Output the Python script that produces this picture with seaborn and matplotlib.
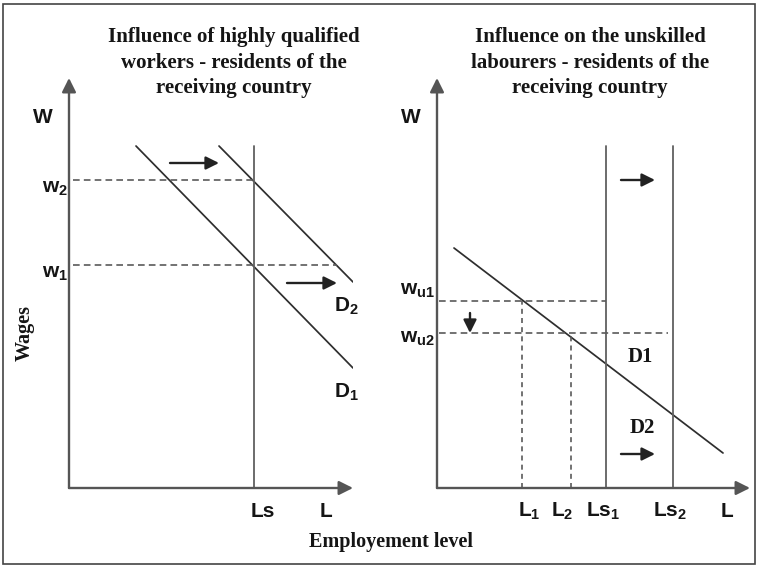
import numpy as np
import pandas as pd
import seaborn as sns
import matplotlib.pyplot as plt
from matplotlib.patches import Rectangle

# left panel: highly qualified workers (units = axis length along L / W)
hq_title = ["Influence of highly qualified", "workers - residents of the", "receiving country"]
hq_len = [284, 410]
hq_d1_x, hq_d1_y = [67, 284], [342, 120]
hq_d2_x, hq_d2_y = [150, 284], [342, 206]
hq_ls, hq_ls_top = 185, 342
hq_w_lvl = [223, 308]          # w1, w2
hq_w_end = [268, 185]
hq_shift_x = [[101, 150], [218, 268]]
hq_shift_y = [325, 205]

# right panel: unskilled labourers
un_title = ["Influence on the unskilled", "labourers - residents of the", "receiving country"]
un_len = [313, 410]
un_d_x, un_d_y = [17, 286], [240, 35]
un_ls, un_ls_top = [169, 236], 342
un_w_lvl = [187, 155]          # wu1, wu2
un_w_end = [169, 231]
un_l = [85, 134]               # L1, L2
un_shift_x = [184, 218]
un_shift_y = [308, 34]
un_drop_x, un_drop_y = 33, [175, 155]

sns.set_theme(style="white")
plt.rcParams['font.family'] = ['Liberation Sans', 'DejaVu Sans']
plt.rcParams['mathtext.fontset'] = 'custom'
plt.rcParams['mathtext.rm'] = 'Liberation Sans:bold'
plt.rcParams['mathtext.it'] = 'Liberation Sans:bold'
plt.rcParams['mathtext.bf'] = 'Liberation Sans:bold'
plt.rcParams['mathtext.default'] = 'rm'

AXC = "#555555"
LNC = "#2e2e2e"
DSH = "#5a5a5a"
TXT = "#151515"
lab = dict(fontsize=15, fontweight="bold", color=TXT, clip_on=False)
serif = dict(family="Liberation Serif", fontweight="bold", color=TXT)

fig = plt.figure(figsize=(7.58, 5.66), dpi=100)
bg = fig.add_axes([0, 0, 1, 1], zorder=0)
bg.set_xlim(0, 758)
bg.set_ylim(566, 0)
bg.axis("off")
bg.add_patch(Rectangle((3, 4), 752, 560, fill=False, edgecolor="#444444", lw=1.2))


def panel(x0, length):
    ax = fig.add_axes([x0 / 758, (566 - 488) / 566, length[0] / 758, length[1] / 566], zorder=1)
    ax.set_xlim(0, length[0])
    ax.set_ylim(0, length[1])
    ax.axis("off")
    ax.patch.set_alpha(0)
    style = "-|>,head_length=0.6,head_width=0.3"
    ax.annotate("", xy=(0, length[1]), xytext=(0, 0),
                arrowprops=dict(arrowstyle=style, color=AXC, lw=1.7, shrinkA=0, shrinkB=0, mutation_scale=14))
    ax.annotate("", xy=(length[0], 0), xytext=(0, 0),
                arrowprops=dict(arrowstyle=style, color=AXC, lw=1.7, shrinkA=0, shrinkB=0, mutation_scale=14))
    return ax


def shift(ax, x0, y0, x1, y1):
    ax.annotate("", xy=(x1, y1), xytext=(x0, y0),
                arrowprops=dict(arrowstyle="-|>,head_length=0.6,head_width=0.3", color="#222222",
                                lw=1.7, shrinkA=0, shrinkB=0, mutation_scale=13))


# ---------- left panel ----------
ax1 = panel(69, hq_len)
demand = pd.DataFrame({"L": hq_d1_x + hq_d2_x, "W": hq_d1_y + hq_d2_y,
                       "curve": ["D1", "D1", "D2", "D2"]})
sns.lineplot(data=demand, x="L", y="W", units="curve", estimator=None, sort=False,
             color=LNC, lw=1.25, ax=ax1)
ax1.set_xlim(0, hq_len[0]); ax1.set_ylim(0, hq_len[1]); ax1.axis("off")
ax1.plot([hq_ls, hq_ls], [0, hq_ls_top], color="#606060", lw=1.3)
for lvl, end in zip(hq_w_lvl, hq_w_end):
    ax1.plot([4, end], [lvl, lvl], color=DSH, lw=1.2, dashes=(4, 2.5))
for xs, y in zip(hq_shift_x, hq_shift_y):
    shift(ax1, xs[0], y, xs[1], y)
ax1.text(-26, 365, "W", ha="center", va="baseline", **lab)
ax1.text(-1, hq_w_lvl[1] - 13, "w$_2$", ha="right", va="baseline", **lab)
ax1.text(-1, hq_w_lvl[0] - 13, "w$_1$", ha="right", va="baseline", **lab)
ax1.text(265, 176, "D$_2$", ha="left", va="baseline", **lab)
ax1.text(265, 90, "D$_1$", ha="left", va="baseline", **lab)
ax1.text(194, -29, "Ls", ha="center", va="baseline", **lab)
ax1.text(257, -29, "L", ha="center", va="baseline", **lab)

# ---------- right panel ----------
ax2 = panel(437, un_len)
sns.lineplot(x=un_d_x, y=un_d_y, estimator=None, sort=False, color=LNC, lw=1.25, ax=ax2)
ax2.set_xlim(0, un_len[0]); ax2.set_ylim(0, un_len[1]); ax2.axis("off")
for x in un_ls:
    ax2.plot([x, x], [0, un_ls_top], color="#606060", lw=1.3)
for lvl, end in zip(un_w_lvl, un_w_end):
    ax2.plot([2, end], [lvl, lvl], color=DSH, lw=1.2, dashes=(4, 2.5))
for x, lvl in zip(un_l, un_w_lvl):
    ax2.plot([x, x], [0, lvl], color=DSH, lw=1.2, dashes=(3, 2.5))
for y in un_shift_y:
    shift(ax2, un_shift_x[0], y, un_shift_x[1], y)
shift(ax2, un_drop_x, un_drop_y[0], un_drop_x, un_drop_y[1])
ax2.text(-26, 365, "W", ha="center", va="baseline", **lab)
ax2.text(-2, 193, "w$_{\\mathrm{u1}}$", ha="right", va="baseline", **lab)
ax2.text(-2, 145, "w$_{\\mathrm{u2}}$", ha="right", va="baseline", **lab)
ax2.text(203, 126, "D1", ha="center", va="baseline", fontsize=15, clip_on=False, **serif)
ax2.text(205, 55, "D2", ha="center", va="baseline", fontsize=15, clip_on=False, **serif)
for x, s in zip([92, 125, 166, 233, 290], ["L$_1$", "L$_2$", "Ls$_1$", "Ls$_2$", "L"]):
    ax2.text(x, -29, s, ha="center", va="baseline", **lab)

# ---------- titles and shared labels ----------
for i, (a, b) in enumerate(zip(hq_title, un_title)):
    bg.text(234, 37 + 25.5 * i, a, ha="center", va="center", fontsize=15, **serif)
    bg.text(590, 37 + 25.5 * i, b, ha="center", va="center", fontsize=15, **serif)
bg.text(25, 333, "Wages", rotation=90, ha="center", va="center", fontsize=14.5, **serif)
bg.text(391, 542, "Employement level", ha="center", va="center", fontsize=14.5, **serif)

fig.savefig("out.png", dpi=100)
